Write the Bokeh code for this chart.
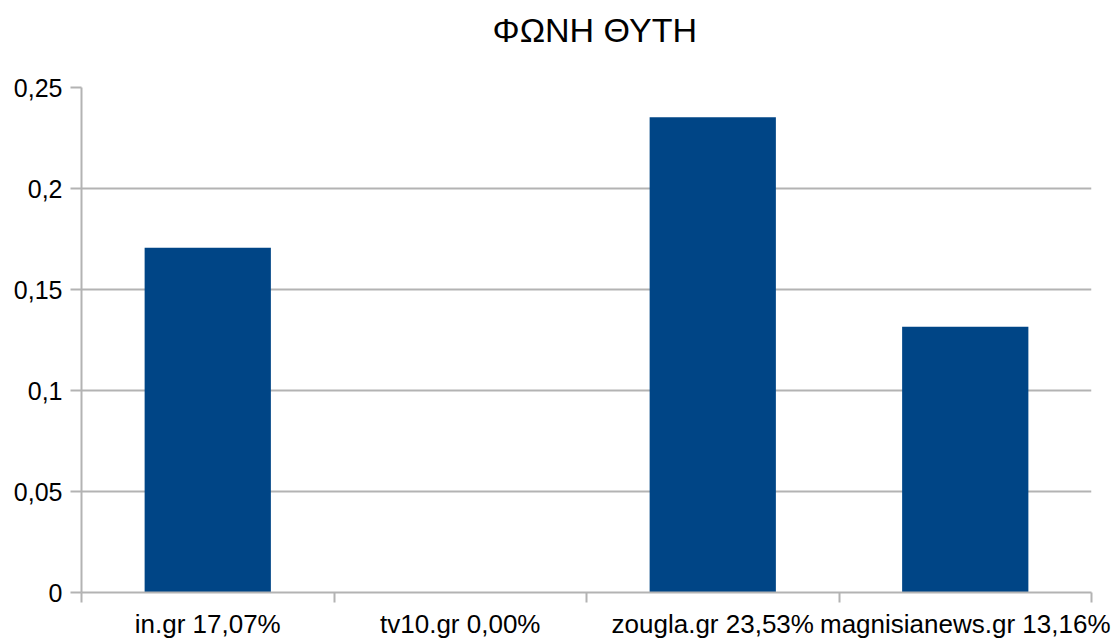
from bokeh.plotting import figure
from bokeh.models import FixedTicker, CustomJSTickFormatter, Range1d, Title
from bokeh.embed import file_html
from bokeh.resources import INLINE

title_text = "ΦΩΝΗ ΘΥΤΗ"
categories = ["in.gr 17,07%", "tv10.gr 0,00%", "zougla.gr 23,53%", "magnisianews.gr 13,16%"]
values = [0.1707, 0.0, 0.2353, 0.1316]
y_ticks = [0, 0.05, 0.1, 0.15, 0.2, 0.25]

FONT = "Liberation Sans"
GRAY = "#b3b3b3"
BLUE = "#004586"

n = len(categories)
centers = [i + 0.5 for i in range(n)]

p = figure(width=1111, height=641, output_backend="svg", toolbar_location=None,
           title=None,
           x_range=Range1d(0, n), y_range=Range1d(0, 0.25),
           min_border_left=81, min_border_right=20, min_border_top=87, min_border_bottom=48)
p.outline_line_color = None
p.background_fill_color = "white"
p.border_fill_color = "white"

p.vbar(x=centers, top=values, width=0.5, fill_color=BLUE, line_color=None)

# spacer between plot frame and title (closest to frame)
spacer = Title(text=" ", text_font=FONT, text_font_size="1px", standoff=29)
p.add_layout(spacer, "above")
main_title = Title(text=title_text, text_font=FONT, text_font_size="34px",
                   text_font_style="normal", text_color="black",
                   align="left", offset=411, standoff=14)
p.add_layout(main_title, "above")

# x axis
xa = p.xaxis[0]
xa.ticker = FixedTicker(ticks=centers, minor_ticks=list(range(n + 1)))
xa.major_label_overrides = {c: lab for c, lab in zip(centers, categories)}
xa.major_tick_out = 0
xa.major_tick_in = 0
xa.minor_tick_out = 10
xa.minor_tick_in = 0
xa.minor_tick_line_color = GRAY
xa.minor_tick_line_width = 2
xa.axis_line_color = GRAY
xa.axis_line_width = 2
xa.major_label_text_font = FONT
xa.major_label_text_font_size = "26px"
xa.major_label_text_color = "black"
xa.major_label_standoff = 6

# y axis
ya = p.yaxis[0]
ya.ticker = FixedTicker(ticks=y_ticks)
ya.formatter = CustomJSTickFormatter(code="""
let s = tick.toFixed(2).replace(/0+$/, '').replace(/\\.$/, '');
return s.replace('.', ',');
""")
ya.major_tick_out = 11
ya.major_tick_in = 0
ya.minor_tick_out = 0
ya.minor_tick_in = 0
ya.major_tick_line_color = GRAY
ya.major_tick_line_width = 2
ya.axis_line_color = GRAY
ya.axis_line_width = 2
ya.major_label_text_font = FONT
ya.major_label_text_font_size = "25px"
ya.major_label_text_color = "black"
ya.major_label_standoff = 8

p.xgrid.grid_line_color = None
p.ygrid.grid_line_color = GRAY
p.ygrid.grid_line_width = 2

open("out.html", "w").write(file_html(p, INLINE))
